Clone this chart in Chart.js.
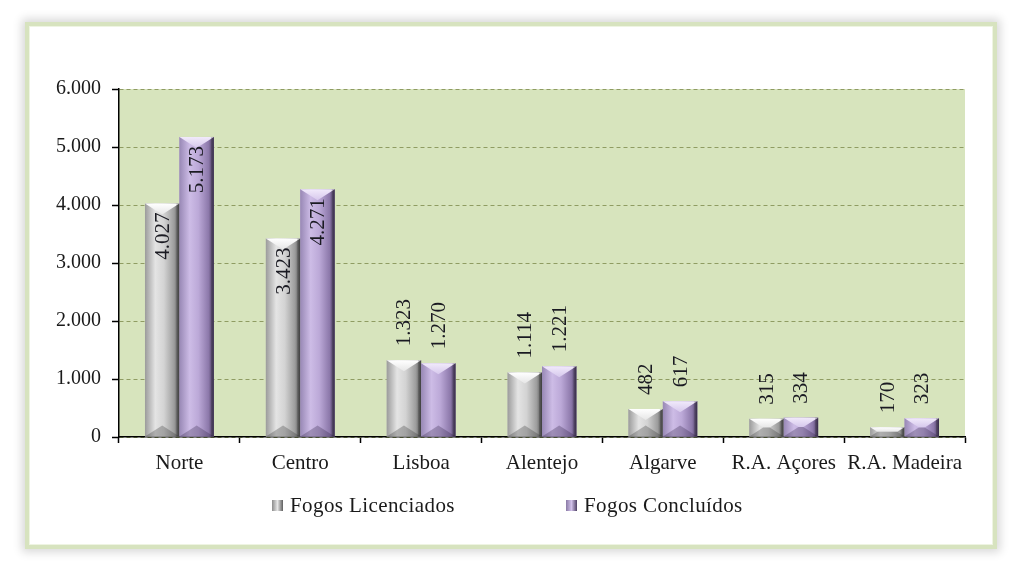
<!DOCTYPE html>
<html>
<head>
<meta charset="utf-8">
<script src="https://cdn.jsdelivr.net/npm/chart.js@4.4.1/dist/chart.umd.min.js"></script>
<style>
  html, body { margin: 0; padding: 0; background: #fff; }
  body { width: 1023px; height: 572px; position: relative; overflow: hidden; font-family: "Liberation Serif", serif; }
  #frame {
    position: absolute; left: 25px; top: 22px; width: 972px; height: 527px;
    box-sizing: border-box; border: 4px solid #d7e3bf; background: #fff;
    box-shadow: 0 0 9px 3px rgba(0, 0, 0, 0.16), inset 0 0 0 1px #eef4e2;
  }
  #wrap { position: absolute; left: 0; top: 0; width: 1023px; height: 572px; }
  .legend { position: absolute; top: 493px; font-size: 21px; color: #1a1a1a; display: flex; align-items: center; white-space: nowrap; letter-spacing: 0.4px; }
  .legend i { display: inline-block; width: 11px; height: 11px; margin-right: 7px; }
  #lg1 { left: 272px; }
  #lg2 { left: 566px; }
  #lg1 i { background: linear-gradient(90deg, #8c8c8c, #e6e6e6 50%, #5e5e5e); }
  #lg2 i { background: linear-gradient(90deg, #8a7aa6, #d2c2ea 50%, #4e4064); }
</style>
</head>
<body>
<div id="frame"></div>
<div id="wrap"><canvas id="chart" width="1023" height="572"></canvas></div>
<div class="legend" id="lg1"><i></i>Fogos Licenciados</div>
<div class="legend" id="lg2"><i></i>Fogos Concluídos</div>
<script>
// Fogos licenciados vs concluídos por região
const categories = ['Norte', 'Centro', 'Lisboa', 'Alentejo', 'Algarve', 'R.A. Açores', 'R.A. Madeira'];
const licenciados = [4027, 3423, 1323, 1114, 482, 315, 170];
const concluidos = [5173, 4271, 1270, 1221, 617, 334, 323];
const seriesNames = ['Fogos Licenciados', 'Fogos Concluídos'];
const yMin = 0, yMax = 6000, yStep = 1000;

const FONT = '"Liberation Serif", "Times New Roman", serif';
const fmt = v => String(v).replace(/\B(?=(\d{3})+(?!\d))/g, '.');

// colours for the bevelled look (body gradient left->right, top and bottom faces)
const palettes = [
    {
        base: '#c4c4c4',
        body: [[0, '#9b9b9b'], [0.3, '#e4e4e4'], [0.55, '#d3d3d3'], [0.85, '#9c9c9c'], [1, '#4c4c4c']],
        top: ['#ffffff', '#e6e6e6'], bottom: 'rgba(40,40,40,0.28)'
    },
    {
        base: '#b4a1cf',
        body: [[0, '#9888b5'], [0.3, '#cdbce6'], [0.55, '#bca9d8'], [0.85, '#8c78aa'], [1, '#433657']],
        top: ['#f1eafb', '#d6c8ec'], bottom: 'rgba(40,25,60,0.28)'
    }
];

function poly(ctx, pts, fill) {
    ctx.beginPath();
    ctx.moveTo(pts[0][0], pts[0][1]);
    for (let i = 1; i < pts.length; i++) ctx.lineTo(pts[i][0], pts[i][1]);
    ctx.closePath();
    ctx.fillStyle = fill;
    ctx.fill();
}

const plotBackground = {
    id: 'plotBackground',
    beforeDraw(chart) {
        const { ctx, chartArea: a } = chart;
        ctx.save();
        ctx.fillStyle = '#d7e4bd';
        ctx.fillRect(a.left, a.top, a.right - a.left, a.bottom - a.top);
        ctx.restore();
    }
};

const bevelBars = {
    id: 'bevelBars',
    afterDatasetsDraw(chart) {
        const ctx = chart.ctx;
        chart.data.datasets.forEach((ds, di) => {
            const pal = palettes[di];
            chart.getDatasetMeta(di).data.forEach(bar => {
                const { x, y, base, width } = bar.getProps(['x', 'y', 'base', 'width'], true);
                const L = x - width / 2, R = x + width / 2, T = y, B = base;
                const h = B - T;
                const bv = Math.min(11, h / 2);
                const bh = width / 2 * (bv / 11);
                ctx.save();
                // body
                const g = ctx.createLinearGradient(L, 0, R, 0);
                pal.body.forEach(s => g.addColorStop(s[0], s[1]));
                ctx.fillStyle = g;
                ctx.fillRect(L, T, width, h);
                // top face
                const gt = ctx.createLinearGradient(0, T, 0, T + bv);
                gt.addColorStop(0, pal.top[0]); gt.addColorStop(1, pal.top[1]);
                poly(ctx, [[L, T], [R, T], [R - bh, T + bv], [L + bh, T + bv]], gt);
                // bottom face
                poly(ctx, [[L, B], [R, B], [R - bh, B - bv], [L + bh, B - bv]], pal.bottom);
                // right edge shade
                ctx.fillStyle = 'rgba(0,0,0,0.18)';
                ctx.fillRect(R - 3, T, 3, h);
                ctx.restore();
            });
        });
    }
};

const barLabels = {
    id: 'barLabels',
    afterDatasetsDraw(chart) {
        const ctx = chart.ctx;
        ctx.save();
        ctx.font = '21px ' + FONT;
        ctx.fillStyle = '#1a1a22';
        ctx.textBaseline = 'middle';
        chart.data.datasets.forEach((ds, di) => {
            chart.getDatasetMeta(di).data.forEach((bar, i) => {
                const v = ds.data[i];
                const { x, y } = bar.getProps(['x', 'y'], true);
                const inside = v > 3000;
                ctx.save();
                ctx.translate(x, inside ? y + 9 : y - 14);
                ctx.rotate(-Math.PI / 2);
                ctx.textAlign = inside ? 'right' : 'left';
                ctx.fillText(fmt(v), 0, 1);
                ctx.restore();
            });
        });
        ctx.restore();
    }
};

new Chart(document.getElementById('chart'), {
    type: 'bar',
    data: {
        labels: categories,
        datasets: [
            { label: seriesNames[0], data: licenciados, backgroundColor: palettes[0].base },
            { label: seriesNames[1], data: concluidos, backgroundColor: palettes[1].base }
        ]
    },
    options: {
        responsive: false,
        animation: false,
        devicePixelRatio: 1,
        layout: { padding: { left: 40, right: 58, top: 89, bottom: 95 } },
        datasets: { bar: { categoryPercentage: 0.57, barPercentage: 1, borderWidth: 0 } },
        plugins: { legend: { display: false }, tooltip: { enabled: false } },
        scales: {
            x: {
                afterFit: s => { s.height = 40; },
                grid: { offset: true, drawOnChartArea: false, tickLength: 6, tickColor: '#000', tickWidth: 1.5 },
                border: { color: '#000', width: 1.5 },
                ticks: { font: { family: FONT, size: 21 }, color: '#1a1a1a', padding: 8, maxRotation: 0, autoSkip: false }
            },
            y: {
                min: yMin,
                max: yMax,
                afterFit: s => { s.width = 79; },
                grid: { color: '#8f9c62', lineWidth: 1, tickLength: 7, tickColor: '#000', tickWidth: 1.5, tickBorderDash: [] },
                border: { color: '#000', width: 1.5, dash: [4, 3] },
                ticks: { stepSize: yStep, callback: v => fmt(v), font: { family: FONT, size: 20 }, color: '#1a1a1a', padding: 11 }
            }
        }
    },
    plugins: [plotBackground, bevelBars, barLabels]
});
</script>
</body>
</html>
